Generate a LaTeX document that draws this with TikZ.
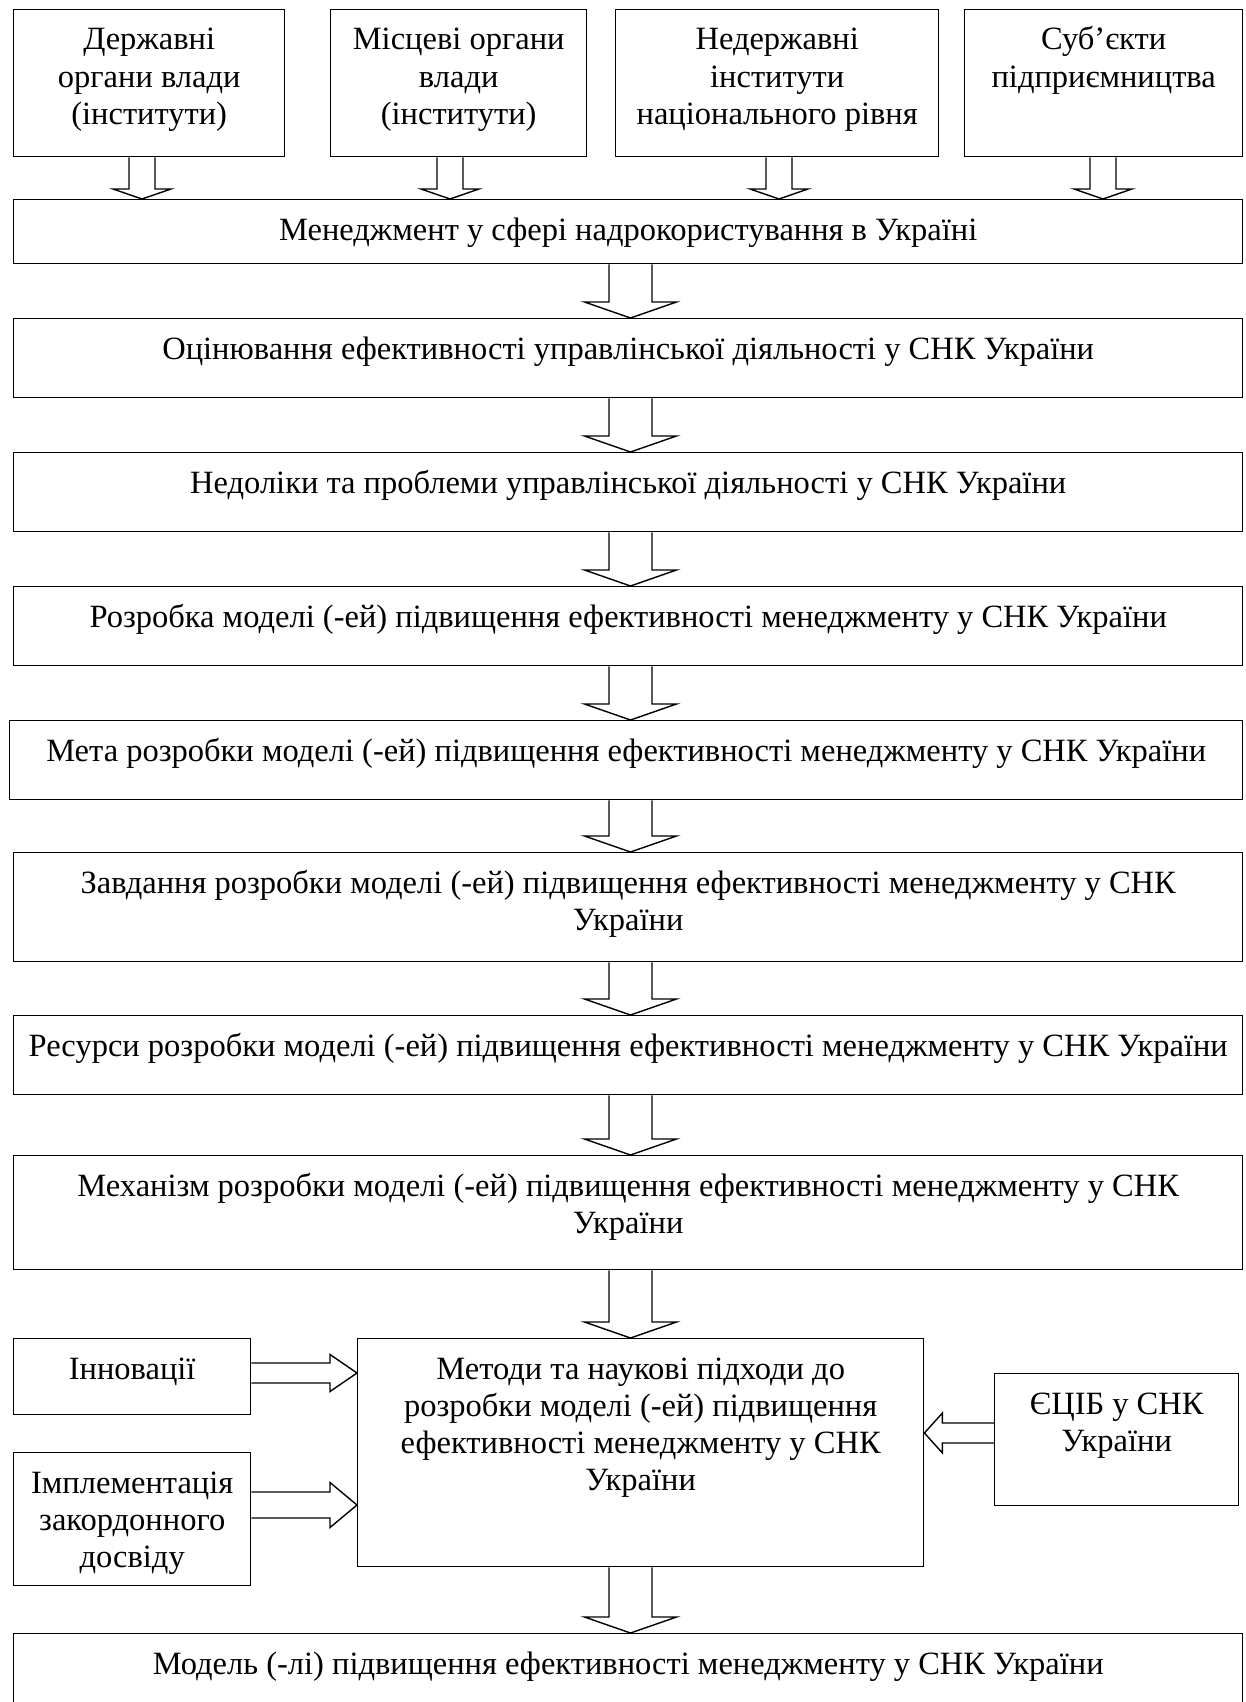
\documentclass[tikz,border=0pt]{standalone}
\usepackage{fontspec}
\setmainfont{Liberation Serif}
\usetikzlibrary{calc}

\tikzset{
  x=1pt, y=-1pt,
  boxframe/.style={draw, line width=1.4pt, inner sep=0pt, anchor=north west},
  labeltext/.style={anchor=base, inner sep=0pt,
    font=\fontsize{32.5}{37}\selectfont},
  blockarrow/.style={draw, line width=1.4pt, line join=miter},
}

% box with its text set from the top (first baseline fixed): name, x1, y1, x2, y2, text
\newcommand\mkbox[6]{%
  \node[boxframe, minimum width={(#4-#2)*1pt}, minimum height={(#5-#3)*1pt}] (#1) at (#2,#3) {};
  \node[labeltext] (#1-txt) at ($(#1.north)+(0,41)$)
    {\begin{tabular}[t]{@{}c@{}}#6\end{tabular}};
}

% hollow block arrow pointing down: from, to, centre x, shaft half width, head half width, head length
\newcommand\arrowdown[6]{%
  \draw[blockarrow] let \p1=(#1.south), \p2=(#2.north) in
    ({(#3-#4)*1pt},\y1) -- ({(#3-#4)*1pt},{\y2+#6*1pt}) -- ({(#3-#5)*1pt},{\y2+#6*1pt})
    -- ({#3*1pt},\y2)
    -- ({(#3+#5)*1pt},{\y2+#6*1pt}) -- ({(#3+#4)*1pt},{\y2+#6*1pt}) -- ({(#3+#4)*1pt},\y1);
}

% hollow block arrow pointing right: from, to, centre y, shaft half width, head half width, head length
\newcommand\arrowright[6]{%
  \draw[blockarrow] let \p1=(#1.east), \p2=(#2.west) in
    (\x1,{-(#3-#4)*1pt}) -- ({\x2-#6*1pt},{-(#3-#4)*1pt}) -- ({\x2-#6*1pt},{-(#3-#5)*1pt})
    -- (\x2,{-#3*1pt})
    -- ({\x2-#6*1pt},{-(#3+#5)*1pt}) -- ({\x2-#6*1pt},{-(#3+#4)*1pt}) -- (\x1,{-(#3+#4)*1pt});
}

% hollow block arrow pointing left: from, to, centre y, shaft half width, head half width, head length
\newcommand\arrowleft[6]{%
  \draw[blockarrow] let \p1=(#1.west), \p2=(#2.east) in
    (\x1,{-(#3-#4)*1pt}) -- ({\x2+#6*1pt},{-(#3-#4)*1pt}) -- ({\x2+#6*1pt},{-(#3-#5)*1pt})
    -- (\x2,{-#3*1pt})
    -- ({\x2+#6*1pt},{-(#3+#5)*1pt}) -- ({\x2+#6*1pt},{-(#3+#4)*1pt}) -- (\x1,{-(#3+#4)*1pt});
}

\begin{document}
\begin{tikzpicture}
  \useasboundingbox[fill=white] (0,0) rectangle (1246,1702);

  % institutions
  \mkbox{top1}{13}{9}{284}{156}{Державні\\органи влади\\(інститути)}
  \mkbox{top2}{330}{9}{586}{156}{Місцеві органи\\влади\\(інститути)}
  \mkbox{top3}{615}{9}{938}{156}{Недержавні\\інститути\\національного рівня}
  \mkbox{top4}{964}{9}{1242}{156}{Суб’єкти\\підприємництва}

  % main chain
  \mkbox{mgmt}{13}{199}{1242}{263}{Менеджмент у сфері надрокористування в Україні}
  \mkbox{eval}{13}{318}{1242}{397}{Оцінювання ефективності управлінської діяльності у СНК України}
  \mkbox{flaws}{13}{452}{1242}{531}{Недоліки та проблеми управлінської діяльності у СНК України}
  \mkbox{devel}{13}{586}{1242}{665}{Розробка моделі (-ей) підвищення ефективності менеджменту у СНК України}
  \mkbox{goal}{9}{720}{1242}{799}{Мета розробки моделі (-ей) підвищення ефективності менеджменту у СНК України}
  \mkbox{tasks}{13}{852}{1242}{961}{Завдання розробки моделі (-ей) підвищення ефективності менеджменту у СНК\\України}
  \mkbox{res}{13}{1015}{1242}{1094}{Ресурси розробки моделі (-ей) підвищення ефективності менеджменту у СНК України}
  \mkbox{mech}{13}{1155}{1242}{1269}{Механізм розробки моделі (-ей) підвищення ефективності менеджменту у СНК\\України}

  % methods and their inputs
  \mkbox{meth}{357}{1338}{923}{1566}{Методи та наукові підходи до\\розробки моделі (-ей) підвищення\\ефективності менеджменту у СНК\\України}
  \mkbox{innov}{13}{1338}{250}{1414}{Інновації}
  \mkbox{impl}{13}{1452}{250}{1585}{Імплементація\\закордонного\\досвіду}
  \mkbox{ecib}{994}{1373}{1238}{1505}{ЄЦІБ у СНК\\України}

  % result
  \mkbox{model}{13}{1633}{1242}{1720}{Модель (-лі) підвищення ефективності менеджменту у СНК України}

  % arrows into management
  \arrowdown{top1}{mgmt}{142}{13}{29}{10}
  \arrowdown{top2}{mgmt}{450}{13}{29}{10}
  \arrowdown{top3}{mgmt}{779}{13}{29}{10}
  \arrowdown{top4}{mgmt}{1103}{13}{29}{10}

  % arrows along the chain
  \arrowdown{mgmt}{eval}{630.5}{21.5}{46}{16}
  \arrowdown{eval}{flaws}{630.5}{21.5}{46}{16}
  \arrowdown{flaws}{devel}{630.5}{21.5}{46}{16}
  \arrowdown{devel}{goal}{630.5}{21.5}{46}{16}
  \arrowdown{goal}{tasks}{630.5}{21.5}{46}{16}
  \arrowdown{tasks}{res}{630.5}{21.5}{46}{16}
  \arrowdown{res}{mech}{630.5}{21.5}{46}{16}
  \arrowdown{mech}{meth}{630.5}{21.5}{46}{16}
  \arrowdown{meth}{model}{630.5}{21.5}{46}{16}

  % side inputs
  \arrowright{innov}{meth}{1373}{10}{18.5}{27}
  \arrowright{impl}{meth}{1505}{13}{22.5}{27}
  \arrowleft{ecib}{meth}{1433}{10}{20}{18}
\end{tikzpicture}
\end{document}
